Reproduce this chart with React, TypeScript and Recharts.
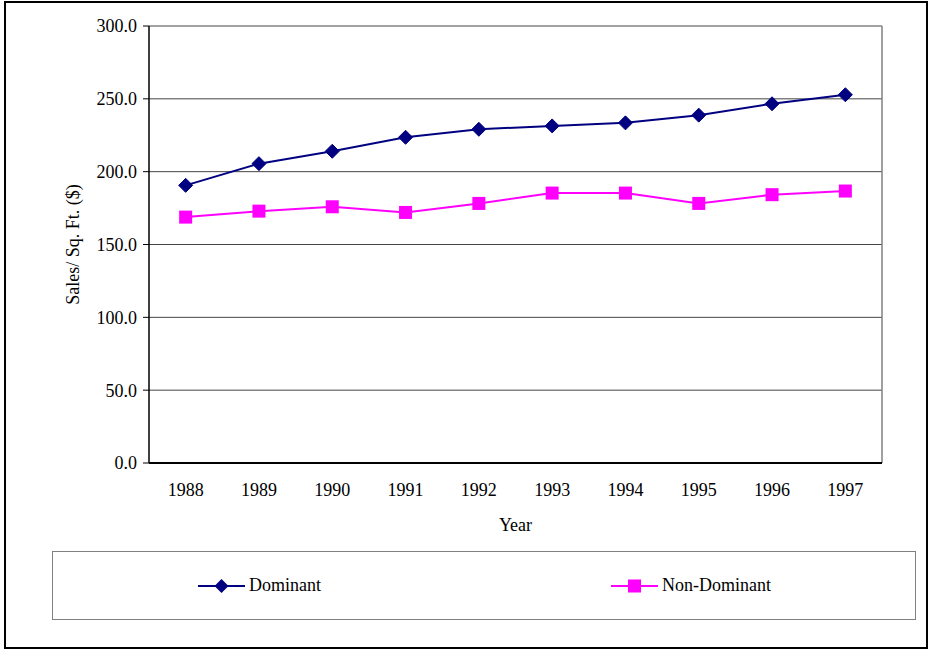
import React from 'react';
import {
  LineChart,
  Line,
  XAxis,
  YAxis,
  CartesianGrid,
  Legend,
  ReferenceLine,
} from 'recharts';

const years = ['1988', '1989', '1990', '1991', '1992', '1993', '1994', '1995', '1996', '1997'];
const dominant = [190.6, 205.5, 214.0, 223.6, 229.1, 231.4, 233.5, 238.8, 246.6, 252.8];
const nonDominant = [168.8, 172.9, 175.9, 172.0, 178.2, 185.3, 185.3, 178.2, 184.2, 186.7];
const yTicks = [0, 50, 100, 150, 200, 250, 300];
const bandEdges = [0, 1, 2, 3, 4, 5, 6, 7, 8, 9, 10];

const data = years.map((year, i) => ({
  year,
  idx: i,
  dominant: dominant[i],
  nonDominant: nonDominant[i],
}));

const FONT = '"Liberation Serif", "Times New Roman", serif';
const NAVY = '#000080';
const MAGENTA = '#FF00FF';

// diamond marker
const DiamondDot = (props: any) => {
  const { cx, cy, index } = props;
  if (cx == null || cy == null) return null;
  const r = 7;
  return (
    <polygon
      key={`d-${index}`}
      points={`${cx},${cy - r} ${cx + r},${cy} ${cx},${cy + r} ${cx - r},${cy}`}
      fill={NAVY}
      stroke={NAVY}
    />
  );
};

// square marker
const SquareDot = (props: any) => {
  const { cx, cy, index } = props;
  if (cx == null || cy == null) return null;
  const s = 13;
  return (
    <rect key={`s-${index}`} x={cx - s / 2} y={cy - s / 2} width={s} height={s} fill={MAGENTA} />
  );
};

const LegendContent = ({ payload }: any) => {
  const lefts = [145, 558];
  return (
    <div style={{ position: 'relative', width: '100%', height: '100%' }}>
      {(payload || []).map((entry: any, i: number) => (
        <div
          key={entry.value}
          style={{
            position: 'absolute',
            left: lefts[i],
            top: 0,
            height: '100%',
            display: 'flex',
            alignItems: 'center',
            fontFamily: FONT,
            fontSize: 18,
            color: '#000',
          }}
        >
          <svg width={47} height={16} style={{ marginRight: 4 }}>
            <line x1={0} y1={8} x2={47} y2={8} stroke={entry.color} strokeWidth={2} />
            {entry.dataKey === 'dominant' ? (
              <polygon points="23.5,1 30.5,8 23.5,15 16.5,8" fill={entry.color} />
            ) : (
              <rect x={17} y={1.5} width={13} height={13} fill={entry.color} />
            )}
          </svg>
          <span>{entry.value}</span>
        </div>
      ))}
    </div>
  );
};

export default function App() {
  return (
    <div
      style={{
        position: 'absolute',
        left: 0,
        top: 0,
        width: 929,
        height: 652,
        background: '#fff',
        fontFamily: FONT,
      }}
    >
      <div
        style={{
          position: 'absolute',
          left: 4,
          top: 1,
          width: 924,
          height: 648,
          border: '2px solid #000',
          boxSizing: 'border-box',
        }}
      />
      <LineChart
        width={929}
        height={652}
        data={data}
        margin={{ top: 26, right: 47, bottom: 113, left: 69 }}
        style={{ fontFamily: FONT }}
      >
        <CartesianGrid xAxisId="cat" vertical={false} stroke="#444" strokeWidth={1} />
        <XAxis
          xAxisId="bounds"
          type="number"
          dataKey="idx"
          domain={[0, 10]}
          ticks={bandEdges}
          tick={false}
          tickSize={6}
          tickLine={{ stroke: '#000', strokeWidth: 1 }}
          axisLine={{ stroke: '#000', strokeWidth: 2 }}
          height={1}
          allowDataOverflow
        />
        <XAxis
          xAxisId="cat"
          dataKey="year"
          type="category"
          scale="band"
          interval={0}
          height={75}
          tickSize={0}
          tickMargin={19}
          tickLine={false}
          axisLine={false}
          tick={{ fill: '#000', fontSize: 18, fontFamily: FONT }}
          label={{
            value: 'Year',
            position: 'insideBottom',
            offset: 8,
            fill: '#000',
            fontSize: 18,
            fontFamily: FONT,
          }}
        />
        <YAxis
          domain={[0, 300]}
          ticks={yTicks}
          width={80}
          tickSize={6}
          tickMargin={6}
          interval={0}
          tickFormatter={(v: number) => v.toFixed(1)}
          tick={{ fill: '#000', fontSize: 18, fontFamily: FONT }}
          tickLine={{ stroke: '#000' }}
          axisLine={{ stroke: '#000', strokeWidth: 1.5 }}
          label={{
            value: 'Sales/ Sq. Ft. ($)',
            angle: -90,
            position: 'insideLeft',
            offset: 4,
            fill: '#000',
            fontSize: 18,
            fontFamily: FONT,
            style: { textAnchor: 'middle' },
          }}
        />
        <ReferenceLine xAxisId="bounds" x={10} stroke="#808080" strokeWidth={1.5} />
        <Line
          xAxisId="cat"
          type="linear"
          dataKey="dominant"
          name="Dominant"
          stroke={NAVY}
          strokeWidth={2}
          dot={DiamondDot}
          activeDot={false}
          isAnimationActive={false}
        />
        <Line
          xAxisId="cat"
          type="linear"
          dataKey="nonDominant"
          name="Non-Dominant"
          stroke={MAGENTA}
          strokeWidth={2}
          dot={SquareDot}
          activeDot={false}
          isAnimationActive={false}
        />
        <Legend
          layout="horizontal"
          verticalAlign="middle"
          align="center"
          content={<LegendContent />}
          wrapperStyle={{
            left: 52,
            top: 551,
            width: 864,
            height: 69,
            border: '1.5px solid #808080',
            boxSizing: 'border-box',
          }}
        />
      </LineChart>
    </div>
  );
}
